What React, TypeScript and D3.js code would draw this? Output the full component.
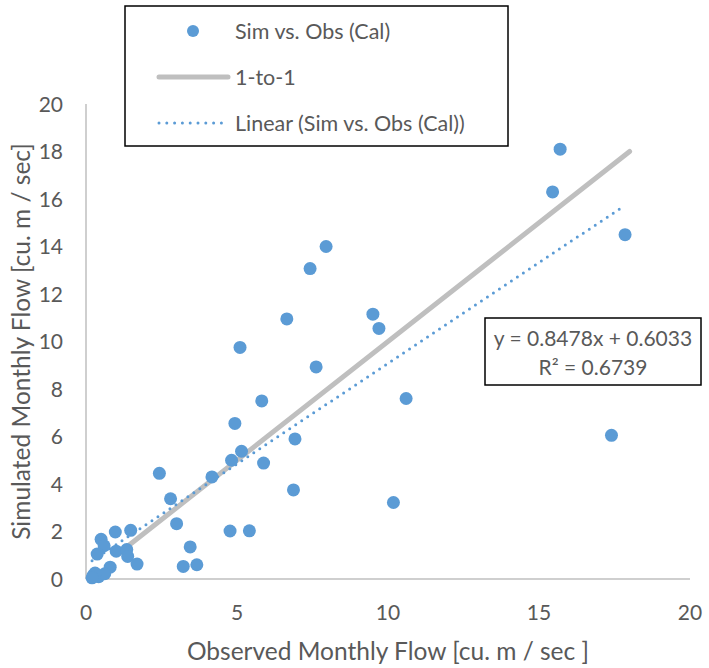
import React from "react";
import * as d3 from "d3";

const obsFlow = [15.7, 15.45, 17.85, 9.5, 9.7, 10.6, 17.4, 7.95, 7.42, 6.65, 5.1, 7.62, 5.82, 4.93, 6.92, 5.15, 4.82, 5.88, 4.17, 6.87, 10.18, 4.77, 5.41, 2.43, 2.8, 3.0, 3.45, 3.22, 3.67, 0.97, 1.48, 0.5, 0.6, 0.37, 1.0, 1.35, 1.38, 1.69, 0.8, 0.24, 0.42, 0.62, 0.3, 0.2];
const simFlow = [18.1, 16.3, 14.5, 11.15, 10.55, 7.6, 6.05, 14.0, 13.07, 10.95, 9.75, 8.93, 7.5, 6.55, 5.9, 5.38, 5.0, 4.88, 4.3, 3.75, 3.22, 2.02, 2.03, 4.45, 3.38, 2.33, 1.35, 0.53, 0.6, 1.98, 2.05, 1.67, 1.4, 1.05, 1.17, 1.24, 0.95, 0.63, 0.5, 0.15, 0.1, 0.22, 0.25, 0.05];
const oneToOne = [1.4, 18];
const trendSlope = 0.8478;
const trendIntercept = 0.6033;
const xTicks = [0, 5, 10, 15, 20];
const yTicks = [0, 2, 4, 6, 8, 10, 12, 14, 16, 18, 20];
const legendLabels = ["Sim vs. Obs (Cal)", "1-to-1", "Linear (Sim vs. Obs (Cal))"];
const equationLines = ["y = 0.8478x + 0.6033", "R² = 0.6739"];
const xTitle = "Observed Monthly Flow [cu. m / sec ]";
const yTitle = "Simulated Monthly Flow [cu. m / sec]";

const BLUE = "#5b9bd5";
const GRAY = "#bfbfbf";
const TEXT = "#595959";
const FONT = "Lato, 'Open Sans', sans-serif";

export default function App() {
  const W = 709, H = 668;
  const x = d3.scaleLinear().domain([0, 20]).range([86, 690]);
  const y = d3.scaleLinear().domain([0, 20]).range([579, 104]);
  const line = d3.line<[number, number]>().x(d => x(d[0])).y(d => y(d[1]));
  const xMin = d3.min(obsFlow) as number;
  const xMax = d3.max(obsFlow) as number;
  const trendPts: [number, number][] = [[xMin, trendSlope * xMin + trendIntercept], [xMax, trendSlope * xMax + trendIntercept]];
  const onePts: [number, number][] = [[oneToOne[0], oneToOne[0]], [oneToOne[1], oneToOne[1]]];
  const pts = obsFlow.map((v, i) => [v, simFlow[i]] as [number, number]);

  return (
    <svg width={W} height={H} style={{ position: "absolute", left: 0, top: 0, background: "#fff" }} fontFamily={FONT}>
      <rect x={0} y={0} width={W} height={H} fill="#fff" />
      {/* axes */}
      <line x1={x(0)} x2={x(0)} y1={y(20)} y2={y(0)} stroke={GRAY} strokeWidth={1.5} />
      <line x1={x(0)} x2={x(20)} y1={y(0)} y2={y(0)} stroke={GRAY} strokeWidth={1.5} />
      {yTicks.map(t => (
        <text key={"y" + t} x={63} y={y(t)} dy="0.36em" textAnchor="end" fontSize={21} fill={TEXT}>{t}</text>
      ))}
      {xTicks.map(t => (
        <text key={"x" + t} x={x(t)} y={612} dy="0.36em" textAnchor="middle" fontSize={21} fill={TEXT}>{t}</text>
      ))}
      <text x={(x(0) + x(20)) / 2} y={651} dy="0.36em" textAnchor="middle" fontSize={24.5} fill={TEXT}>{xTitle}</text>
      <text transform={`translate(21,${(y(0) + y(20)) / 2}) rotate(-90)`} dy="0.36em" textAnchor="middle" fontSize={24.5} fill={TEXT}>{yTitle}</text>

      {/* lines */}
      <path d={line(onePts) as string} stroke={GRAY} strokeWidth={5} strokeLinecap="round" fill="none" />
      <path d={line(trendPts) as string} stroke={BLUE} strokeWidth={3} strokeLinecap="round" strokeDasharray="0 7.2" fill="none" />

      {/* points */}
      {pts.map((p, i) => (
        <circle key={i} cx={x(p[0])} cy={y(p[1])} r={6.5} fill={BLUE} />
      ))}

      {/* legend */}
      <rect x={125} y={6} width={383} height={140} fill="#fff" stroke="#000" strokeWidth={1.5} />
      <circle cx={193} cy={31} r={6} fill={BLUE} />
      <text x={235} y={31} dy="0.36em" fontSize={21.5} fill={TEXT}>{legendLabels[0]}</text>
      <line x1={159} x2={228} y1={77} y2={77} stroke={GRAY} strokeWidth={5} strokeLinecap="round" />
      <text x={235} y={77} dy="0.36em" fontSize={21.5} fill={TEXT}>{legendLabels[1]}</text>
      <line x1={159} x2={222} y1={123} y2={123} stroke={BLUE} strokeWidth={3} strokeLinecap="round" strokeDasharray="0 7.8" />
      <text x={235} y={123} dy="0.36em" fontSize={21.5} fill={TEXT}>{legendLabels[2]}</text>

      {/* equation */}
      <rect x={485} y={318} width={216} height={67} fill="#fff" stroke="#000" strokeWidth={1.5} />
      {equationLines.map((l, i) => (
        <text key={l} x={593} y={338 + i * 29} dy="0.36em" textAnchor="middle" fontSize={21} fill={TEXT}>{l}</text>
      ))}
    </svg>
  );
}
